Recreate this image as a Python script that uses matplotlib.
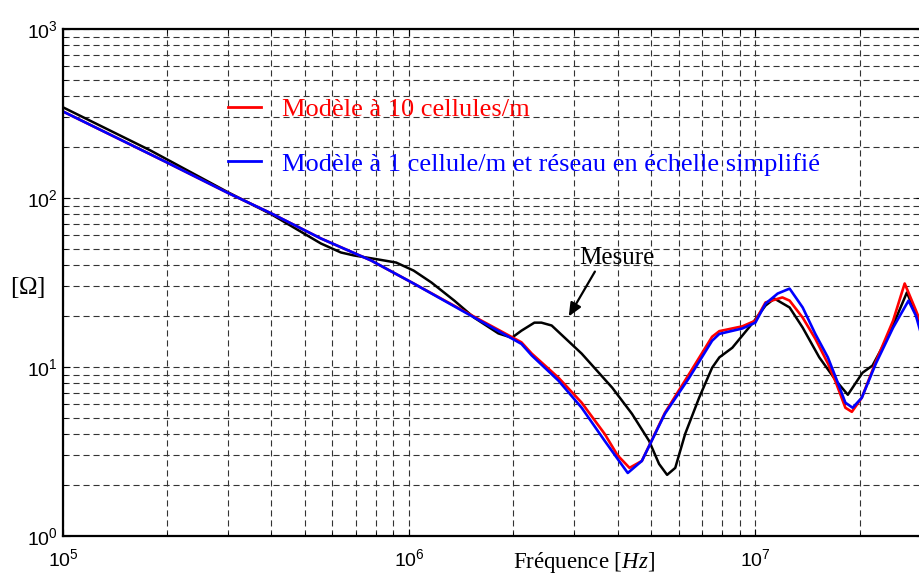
import matplotlib
matplotlib.use('Agg')
import matplotlib.pyplot as plt
from matplotlib.lines import Line2D
from matplotlib.ticker import LogLocator, NullFormatter

plt.rcParams['font.family'] = ['Liberation Sans', 'DejaVu Sans']
plt.rcParams['mathtext.fontset'] = 'custom'
plt.rcParams['mathtext.rm'] = 'Liberation Serif'
plt.rcParams['mathtext.it'] = 'Liberation Serif:italic'

# --- data ---
# measured impedance
f_mes = [1e5, 1.79e5, 3e5, 4e5, 5.56e5, 6.35e5, 6.93e5, 8.13e5, 9.17e5, 1.03e6,
         1.16e6, 1.35e6, 1.54e6, 1.81e6, 1.98e6, 2.11e6, 2.30e6, 2.41e6, 2.58e6,
         3.15e6, 3.86e6, 4.40e6, 4.93e6, 5.27e6, 5.56e6, 5.87e6, 6.27e6, 6.88e6,
         7.50e6, 7.87e6, 8.58e6, 9.8e6, 1.07e7, 1.135e7, 1.256e7, 1.37e7, 1.53e7,
         1.71e7, 1.85e7, 2.04e7, 2.18e7, 2.44e7, 2.74e7, 3.05e7]
z_mes = [344, 191, 108, 80, 53.8, 47.6, 45.7, 43.3, 41.5, 37.2,
         31.6, 24.7, 19.6, 15.8, 14.9, 16.4, 18.3, 18.3, 17.6,
         12.0, 7.54, 5.29, 3.66, 2.67, 2.30, 2.53, 4.02, 6.58,
         9.9, 11.4, 13.0, 18.1, 23.1, 25.4, 22.5, 17.1, 11.4,
         8.3, 6.85, 9.25, 10.2, 15.7, 27.6, 16.4]

# model with 10 cells per metre
f_10 = [1e5, 2e5, 3e5, 4e5, 5.56e5, 7.76e5, 1.03e6, 1.51e6, 2.11e6, 2.26e6,
        2.70e6, 3.15e6, 3.67e6, 4.0e6, 4.33e6, 4.70e6, 5.48e6, 6.44e6, 7.5e6,
        7.87e6, 9.17e6, 1.0e7, 1.07e7, 1.197e7, 1.256e7, 1.37e7, 1.49e7, 1.62e7,
        1.71e7, 1.82e7, 1.90e7, 2.03e7, 2.23e7, 2.5e7, 2.70e7, 2.91e7, 3.05e7]
z_10 = [325, 162, 107, 81, 57.6, 42.7, 31.2, 20.3, 14.0, 12.0,
        8.64, 6.15, 4.02, 3.0, 2.53, 2.78, 5.36, 9.1, 15.1,
        16.3, 17.4, 18.8, 24.1, 25.8, 24.7, 19.6, 14.7, 10.5,
        8.07, 5.74, 5.43, 6.58, 10.8, 18.8, 31.2, 21.6, 17.0]

# model with 1 cell per metre + simplified ladder network
f_1 = [1e5, 2e5, 3e5, 4e5, 5.56e5, 7.76e5, 1.03e6, 1.51e6, 2.11e6, 2.26e6,
       2.70e6, 3.15e6, 3.67e6, 4.0e6, 4.28e6, 4.70e6, 5.48e6, 6.44e6, 7.5e6,
       7.87e6, 9.17e6, 1.0e7, 1.07e7, 1.16e7, 1.256e7, 1.37e7, 1.49e7, 1.62e7,
       1.71e7, 1.82e7, 1.91e7, 2.03e7, 2.23e7, 2.5e7, 2.77e7, 2.91e7, 3.05e7]
z_1 = [325, 162, 107, 81, 57.6, 42.7, 31.2, 20.1, 13.7, 11.7,
       8.3, 5.74, 3.66, 2.86, 2.36, 2.78, 5.29, 8.64, 14.3,
       15.7, 16.9, 18.3, 23.7, 27.2, 29.1, 22.5, 15.7, 11.4,
       8.6, 6.15, 5.74, 6.58, 10.5, 17.1, 24.7, 20.1, 14.3]

lab_10 = 'Modèle à 10 cellules/m'
lab_1 = 'Modèle à 1 cellule/m et réseau en échelle simplifié'

fig = plt.figure(figsize=(9.2, 5.76), dpi=100)
ax = fig.add_axes([63/920, 40/576, 860/920, 507/576])

ax.loglog(f_mes, z_mes, color='black', lw=1.8)
ax.loglog(f_10, z_10, color='red', lw=1.9)
ax.loglog(f_1, z_1, color='blue', lw=1.9)

ax.set_xlim(1e5, 3.05e7)
ax.set_ylim(1, 1000)

ax.xaxis.set_major_locator(LogLocator(base=10, numticks=10))
ax.yaxis.set_major_locator(LogLocator(base=10, numticks=10))
ax.xaxis.set_minor_locator(LogLocator(base=10, subs=range(2, 10), numticks=20))
ax.yaxis.set_minor_locator(LogLocator(base=10, subs=range(2, 10), numticks=20))
ax.xaxis.set_minor_formatter(NullFormatter())
ax.yaxis.set_minor_formatter(NullFormatter())

ax.grid(True, which='both', color='#333333', linestyle=(0, (5.5, 3.5)), lw=0.8)
ax.tick_params(which='both', direction='in', top=True, right=True, labelsize=14)
ax.tick_params(axis='x', which='major', pad=9)
ax.tick_params(axis='y', which='major', pad=4)
ax.tick_params(which='major', length=5)
ax.tick_params(which='minor', length=3)
for s in ax.spines.values():
    s.set_linewidth(1.6)

ax.set_xlabel(r'Fréquence [$\mathit{Hz}$]', family='Liberation Serif', fontsize=16.5)
ax.xaxis.set_label_coords(0.606, -0.028)
ax.set_ylabel(r'[$\mathit{\Omega}$]', family='Liberation Serif', fontsize=18,
              rotation=0, va='center', ha='center')
ax.yaxis.set_label_coords(-0.041, 0.491)

handles = [Line2D([], [], color='red', lw=2), Line2D([], [], color='blue', lw=2)]
leg = ax.legend(handles, [lab_10, lab_1], loc='upper left',
                bbox_to_anchor=(0.164, 0.912), frameon=False,
                prop={'family': 'Liberation Serif', 'size': 19},
                handlelength=1.25, handletextpad=0.8, labelspacing=1.19,
                labelcolor='linecolor')

ax.text(3.98e6, 43.9, 'Mesure', ha='center', va='center',
        family='Liberation Serif', fontsize=18)
ax.annotate('', xy=(2.89e6, 19.9), xytext=(3.44e6, 36.7),
            arrowprops=dict(arrowstyle='-|>,head_length=0.8,head_width=0.35',
                            color='black', lw=1.6, shrinkA=0, shrinkB=0))

fig.savefig('out.png', dpi=100)
